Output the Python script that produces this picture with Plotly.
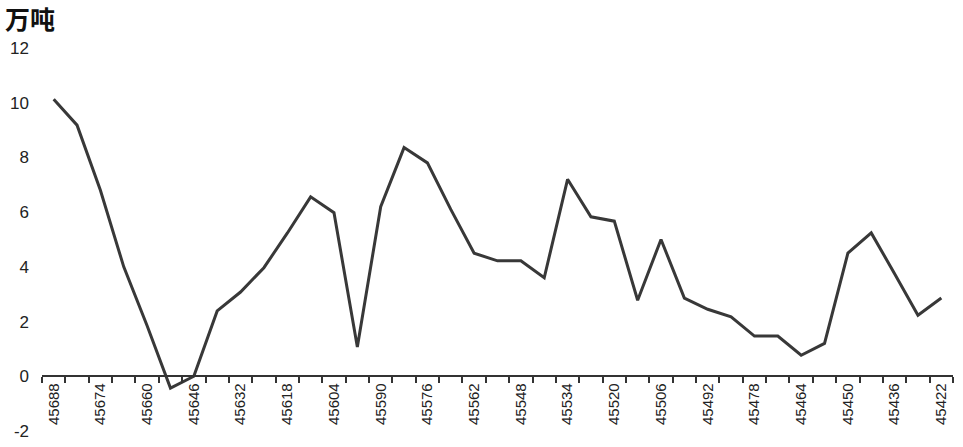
import plotly.graph_objects as go

dates = [45688, 45681, 45674, 45667, 45660, 45653, 45646, 45639, 45632, 45625,
         45618, 45611, 45604, 45597, 45590, 45583, 45576, 45569, 45562, 45555,
         45548, 45541, 45534, 45527, 45520, 45513, 45506, 45499, 45492, 45485,
         45478, 45471, 45464, 45457, 45450, 45443, 45436, 45429, 45422]
values = [10.13, 9.18, 6.8, 4.0, 1.85, -0.43, 0.0, 2.39, 3.08, 3.97,
          5.23, 6.56, 5.98, 1.07, 6.2, 8.36, 7.8, 6.1, 4.5, 4.22,
          4.22, 3.6, 7.2, 5.83, 5.67, 2.78, 5.0, 2.86, 2.45, 2.17,
          1.47, 1.47, 0.77, 1.2, 4.5, 5.24, 3.75, 2.23, 2.86]
label_dates = [45688, 45674, 45660, 45646, 45632, 45618, 45604, 45590, 45576, 45562,
               45548, 45534, 45520, 45506, 45492, 45478, 45464, 45450, 45436, 45422]
y_ticks = [-2, 0, 2, 4, 6, 8, 10, 12]
y_tick_text = ["-2", "0", "2", "4", "6", "8", "10", "12"]
unit_label = "万吨"

fig = go.Figure(go.Scatter(
    x=dates, y=values, mode="lines",
    line=dict(color="#383838", width=3),
    hoverinfo="x+y",
))

W, H = 963, 447
ml, mr, mt, mb = 42, 10, 48, 16
ymin, ymax = y_ticks[0], y_ticks[-1]

fig.update_layout(
    width=W, height=H,
    margin=dict(l=ml, r=mr, t=mt, b=mb, autoexpand=False),
    paper_bgcolor="white", plot_bgcolor="white",
    showlegend=False,
    font=dict(family="Liberation Sans, Arial, sans-serif", color="#222222"),
    xaxis=dict(
        range=[dates[0] + 3.5, dates[-1] - 3.5],
        anchor="free", position=(0 - ymin) / (ymax - ymin),
        automargin=False,
        showgrid=False, zeroline=False,
        showline=True, linecolor="#333333", linewidth=2,
        tickmode="array", tickvals=label_dates, ticktext=[str(d) for d in label_dates],
        ticks="", tickangle=-90, ticklabelstandoff=0,
        tickfont=dict(family="Liberation Sans, Arial, sans-serif",
                      size=15, color="#222222"),
        minor=dict(tick0=dates[0] + 3.5, dtick=7, ticks="outside", ticklen=6,
                   tickwidth=2, tickcolor="#333333", showgrid=False),
    ),
    yaxis=dict(
        range=[ymin, ymax], automargin=False,
        tickmode="array", tickvals=y_ticks, ticktext=y_tick_text,
        showgrid=False, zeroline=False, showline=False,
        ticks="", ticklabelstandoff=12,
        tickfont=dict(family="Liberation Sans, Arial, sans-serif", size=17, color="#222222"),
    ),
)

fig.add_annotation(
    text="<b>" + unit_label + "</b>",
    xref="paper", yref="paper",
    x=(3 - ml) / (W - ml - mr), y=1 + (mt - 18) / (H - mt - mb),
    xanchor="left", yanchor="middle", showarrow=False,
    font=dict(family="Noto Sans CJK SC, sans-serif", size=25, color="#111111"),
)

fig.write_html(
    "out.html",
    config={"displayModeBar": False},
    post_script="document.body.style.margin='0';document.body.style.overflow='hidden';",
)
